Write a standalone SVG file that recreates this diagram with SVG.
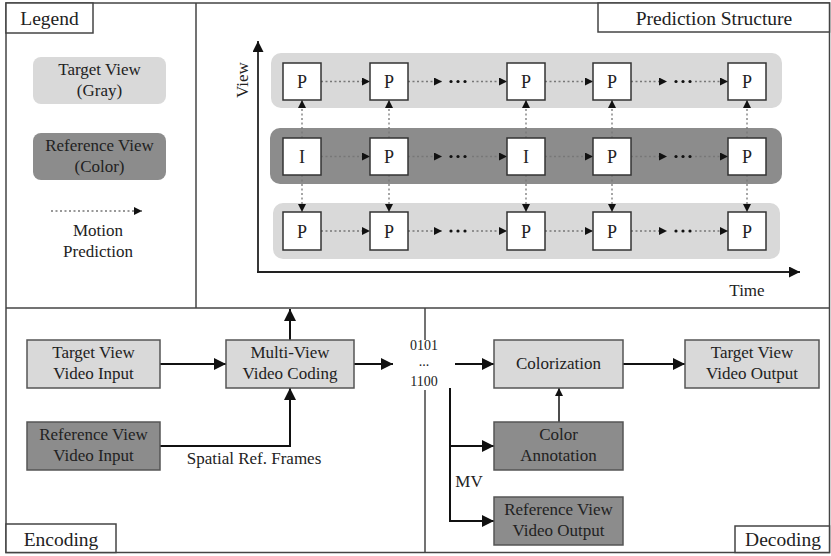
<svg xmlns="http://www.w3.org/2000/svg" width="831" height="556" viewBox="0 0 831 556">
<defs>
<style>
text{font-family:"Liberation Serif","Times New Roman",serif;fill:#222}
.lbl{font-size:19.5px;text-anchor:middle}
.t17{font-size:17px;text-anchor:middle}
.tp{font-size:18px;text-anchor:middle}
.bits{font-size:14px;text-anchor:middle}
.frame{fill:none;stroke:#444;stroke-width:1.5}
.lbox{fill:#fff;stroke:#444;stroke-width:1.5}
.light{fill:#d9d9d9}
.dark{fill:#8c8c8c}
.box{stroke:#555;stroke-width:1.5}
.pbox{fill:#fff;stroke:#333;stroke-width:1.5}
.dot{fill:none;stroke:#777;stroke-width:1.3;stroke-dasharray:2 2.5}
.solid{fill:none;stroke:#111;stroke-width:2}
.thin{fill:none;stroke:#111;stroke-width:1.5}
.axis{fill:none;stroke:#222;stroke-width:1.8}
</style>
<marker id="ah" viewBox="0 0 10 10" refX="10" refY="5" markerWidth="8" markerHeight="8" markerUnits="userSpaceOnUse" orient="auto"><path d="M0,0L10,5L0,10Z" fill="#111"/></marker>
<marker id="ahb" viewBox="0 0 10 10" refX="10" refY="5" markerWidth="11" markerHeight="11" markerUnits="userSpaceOnUse" orient="auto"><path d="M0,0L10,5L0,10Z" fill="#111"/></marker>
<marker id="aha" viewBox="0 0 10 10" refX="10" refY="5" markerWidth="12" markerHeight="12" markerUnits="userSpaceOnUse" orient="auto"><path d="M0,0L10,5L0,10Z" fill="#111"/></marker>
</defs>

<g id="frame">
<rect x="6" y="3" width="823.5" height="549.5" class="frame"/>
<line x1="196" y1="3" x2="196" y2="308" class="frame"/>
<line x1="6" y1="308" x2="830" y2="308" class="frame"/>
<line x1="425" y1="308" x2="425" y2="340" class="frame"/>
<line x1="425" y1="390" x2="425" y2="553" class="frame"/>
</g>

<g id="label-legend"><rect x="6" y="3" width="87" height="30" class="lbox"/><text x="49.5" y="25" class="lbl">Legend</text></g>
<g id="label-prediction"><rect x="598" y="3" width="231.5" height="29" class="lbox"/><text x="714" y="25" class="lbl">Prediction Structure</text></g>
<g id="label-encoding"><rect x="6" y="524" width="110" height="28.5" class="lbox"/><text x="61" y="546" class="lbl">Encoding</text></g>
<g id="label-decoding"><rect x="735" y="526" width="94.5" height="26.5" class="lbox"/><text x="783" y="546" class="lbl">Decoding</text></g>

<g id="legend">
<g id="legend-target"><rect x="33" y="57" width="133" height="47" rx="8" class="light"/><text x="99.5" y="75" class="t17">Target View</text><text x="99.5" y="96" class="t17">(Gray)</text></g>
<g id="legend-reference"><rect x="33" y="133" width="133" height="47" rx="8" class="dark"/><text x="99.5" y="151" class="t17">Reference View</text><text x="99.5" y="172" class="t17">(Color)</text></g>
<g id="legend-motion"><line x1="51" y1="211" x2="142" y2="211" class="dot" marker-end="url(#ah)"/><text x="98" y="236" class="t17">Motion</text><text x="98" y="257" class="t17">Prediction</text></g>
</g>

<g id="prediction">
<g id="bands">
<rect x="271" y="53" width="511" height="55" rx="10" class="light"/>
<rect x="270" y="128" width="512" height="56" rx="10" class="dark"/>
<rect x="273" y="203" width="507" height="56" rx="10" class="light"/>
</g>
<g id="axes">
<line x1="258" y1="272" x2="258" y2="41" class="axis" marker-end="url(#ahb)"/>
<line x1="257" y1="272" x2="800" y2="272" class="axis" marker-end="url(#ahb)"/>
<text x="248" y="80" class="t17" transform="rotate(-90 248 80)">View</text>
<text x="747" y="296" class="t17">Time</text>
</g>
<g id="pred-connectors">
<line x1="321" y1="81.5" x2="370" y2="81.5" class="dot" marker-end="url(#ah)"/>
<line x1="408" y1="81.5" x2="442" y2="81.5" class="dot" marker-end="url(#ah)"/>
<line x1="472" y1="81.5" x2="507" y2="81.5" class="dot" marker-end="url(#ah)"/>
<line x1="545" y1="81.5" x2="593" y2="81.5" class="dot" marker-end="url(#ah)"/>
<line x1="631" y1="81.5" x2="667" y2="81.5" class="dot" marker-end="url(#ah)"/>
<line x1="695" y1="81.5" x2="728" y2="81.5" class="dot" marker-end="url(#ah)"/>
<line x1="321" y1="156.5" x2="370" y2="156.5" class="dot" marker-end="url(#ah)"/>
<line x1="408" y1="156.5" x2="442" y2="156.5" class="dot" marker-end="url(#ah)"/>
<line x1="472" y1="156.5" x2="507" y2="156.5" class="dot" marker-end="url(#ah)"/>
<line x1="545" y1="156.5" x2="593" y2="156.5" class="dot" marker-end="url(#ah)"/>
<line x1="631" y1="156.5" x2="667" y2="156.5" class="dot" marker-end="url(#ah)"/>
<line x1="695" y1="156.5" x2="728" y2="156.5" class="dot" marker-end="url(#ah)"/>
<line x1="321" y1="231" x2="370" y2="231" class="dot" marker-end="url(#ah)"/>
<line x1="408" y1="231" x2="442" y2="231" class="dot" marker-end="url(#ah)"/>
<line x1="472" y1="231" x2="507" y2="231" class="dot" marker-end="url(#ah)"/>
<line x1="545" y1="231" x2="593" y2="231" class="dot" marker-end="url(#ah)"/>
<line x1="631" y1="231" x2="667" y2="231" class="dot" marker-end="url(#ah)"/>
<line x1="695" y1="231" x2="728" y2="231" class="dot" marker-end="url(#ah)"/>
<line x1="302" y1="138" x2="302" y2="100" class="dot" marker-end="url(#ah)"/>
<line x1="302" y1="175" x2="302" y2="212" class="dot" marker-end="url(#ah)"/>
<line x1="389" y1="138" x2="389" y2="100" class="dot" marker-end="url(#ah)"/>
<line x1="389" y1="175" x2="389" y2="212" class="dot" marker-end="url(#ah)"/>
<line x1="526" y1="138" x2="526" y2="100" class="dot" marker-end="url(#ah)"/>
<line x1="526" y1="175" x2="526" y2="212" class="dot" marker-end="url(#ah)"/>
<line x1="612" y1="138" x2="612" y2="100" class="dot" marker-end="url(#ah)"/>
<line x1="612" y1="175" x2="612" y2="212" class="dot" marker-end="url(#ah)"/>
<line x1="747" y1="138" x2="747" y2="100" class="dot" marker-end="url(#ah)"/>
<line x1="747" y1="175" x2="747" y2="212" class="dot" marker-end="url(#ah)"/>
<g fill="#111">
<circle cx="451" cy="81.5" r="1.6"/><circle cx="458" cy="81.5" r="1.6"/><circle cx="465" cy="81.5" r="1.6"/>
<circle cx="676" cy="81.5" r="1.6"/><circle cx="683" cy="81.5" r="1.6"/><circle cx="690" cy="81.5" r="1.6"/>
<circle cx="451" cy="156.5" r="1.6"/><circle cx="458" cy="156.5" r="1.6"/><circle cx="465" cy="156.5" r="1.6"/>
<circle cx="676" cy="156.5" r="1.6"/><circle cx="683" cy="156.5" r="1.6"/><circle cx="690" cy="156.5" r="1.6"/>
<circle cx="451" cy="231" r="1.6"/><circle cx="458" cy="231" r="1.6"/><circle cx="465" cy="231" r="1.6"/>
<circle cx="676" cy="231" r="1.6"/><circle cx="683" cy="231" r="1.6"/><circle cx="690" cy="231" r="1.6"/>
</g>
</g>
<g id="frames-top">
<g id="f-t1"><rect x="283" y="63" width="38" height="37" class="pbox"/><text x="302" y="88" class="tp">P</text></g>
<g id="f-t2"><rect x="370" y="63" width="38" height="37" class="pbox"/><text x="389" y="88" class="tp">P</text></g>
<g id="f-t3"><rect x="507" y="63" width="38" height="37" class="pbox"/><text x="526" y="88" class="tp">P</text></g>
<g id="f-t4"><rect x="593" y="63" width="38" height="37" class="pbox"/><text x="612" y="88" class="tp">P</text></g>
<g id="f-t5"><rect x="728" y="63" width="38" height="37" class="pbox"/><text x="747" y="88" class="tp">P</text></g>
</g>
<g id="frames-mid">
<g id="f-m1"><rect x="283" y="138" width="38" height="37" class="pbox"/><text x="302" y="163" class="tp">I</text></g>
<g id="f-m2"><rect x="370" y="138" width="38" height="37" class="pbox"/><text x="389" y="163" class="tp">P</text></g>
<g id="f-m3"><rect x="507" y="138" width="38" height="37" class="pbox"/><text x="526" y="163" class="tp">I</text></g>
<g id="f-m4"><rect x="593" y="138" width="38" height="37" class="pbox"/><text x="612" y="163" class="tp">P</text></g>
<g id="f-m5"><rect x="728" y="138" width="38" height="37" class="pbox"/><text x="747" y="163" class="tp">P</text></g>
</g>
<g id="frames-bot">
<g id="f-b1"><rect x="283" y="212" width="38" height="38" class="pbox"/><text x="302" y="237.5" class="tp">P</text></g>
<g id="f-b2"><rect x="370" y="212" width="38" height="38" class="pbox"/><text x="389" y="237.5" class="tp">P</text></g>
<g id="f-b3"><rect x="507" y="212" width="38" height="38" class="pbox"/><text x="526" y="237.5" class="tp">P</text></g>
<g id="f-b4"><rect x="593" y="212" width="38" height="38" class="pbox"/><text x="612" y="237.5" class="tp">P</text></g>
<g id="f-b5"><rect x="728" y="212" width="38" height="38" class="pbox"/><text x="747" y="237.5" class="tp">P</text></g>
</g>
</g>

<g id="connectors">
<line x1="160" y1="364" x2="226" y2="364" class="solid" marker-end="url(#aha)"/>
<polyline points="160,446 290,446 290,388" class="solid" marker-end="url(#aha)"/>
<line x1="290" y1="340" x2="290" y2="309" class="solid" marker-end="url(#aha)"/>
<line x1="354" y1="364" x2="393" y2="364" class="solid" marker-end="url(#aha)"/>
<line x1="455" y1="364" x2="494" y2="364" class="solid" marker-end="url(#aha)"/>
<line x1="623" y1="364" x2="685" y2="364" class="solid" marker-end="url(#aha)"/>
<line x1="559" y1="422" x2="559" y2="388" class="thin" marker-end="url(#ah)"/>
<polyline points="450,388 450,521 494,521" class="solid" marker-end="url(#aha)"/>
<line x1="450" y1="446" x2="494" y2="446" class="solid" marker-end="url(#aha)"/>
</g>

<g id="encoding">
<g id="target-input"><rect x="27" y="340" width="133" height="48" class="light box"/><text x="93.5" y="358" class="t17">Target View</text><text x="93.5" y="379" class="t17">Video Input</text></g>
<g id="reference-input"><rect x="27" y="422" width="133" height="48" class="dark box"/><text x="93.5" y="440" class="t17">Reference View</text><text x="93.5" y="461" class="t17">Video Input</text></g>
<g id="mvc"><rect x="226" y="340" width="128" height="48" class="light box"/><text x="290" y="358" class="t17">Multi-View</text><text x="290" y="379" class="t17">Video Coding</text></g>
<text x="254" y="464" class="t17">Spatial Ref. Frames</text>
</g>

<g id="bitstream">
<text x="424" y="350" class="bits">0101</text>
<text x="424" y="366" class="bits">...</text>
<text x="424" y="386" class="bits">1100</text>
</g>

<g id="decoding">
<g id="colorization"><rect x="494" y="340" width="129" height="48" class="light box"/><text x="558.5" y="369" class="t17">Colorization</text></g>
<g id="target-output"><rect x="685" y="340" width="134" height="48" class="light box"/><text x="752" y="358" class="t17">Target View</text><text x="752" y="379" class="t17">Video Output</text></g>
<g id="color-annotation"><rect x="494" y="422" width="129" height="48" class="dark box"/><text x="558.5" y="440" class="t17">Color</text><text x="558.5" y="461" class="t17">Annotation</text></g>
<g id="reference-output"><rect x="494" y="497" width="129" height="48" class="dark box"/><text x="558.5" y="515" class="t17">Reference View</text><text x="558.5" y="536" class="t17">Video Output</text></g>
<text x="469" y="487" class="t17">MV</text>
</g>
</svg>
